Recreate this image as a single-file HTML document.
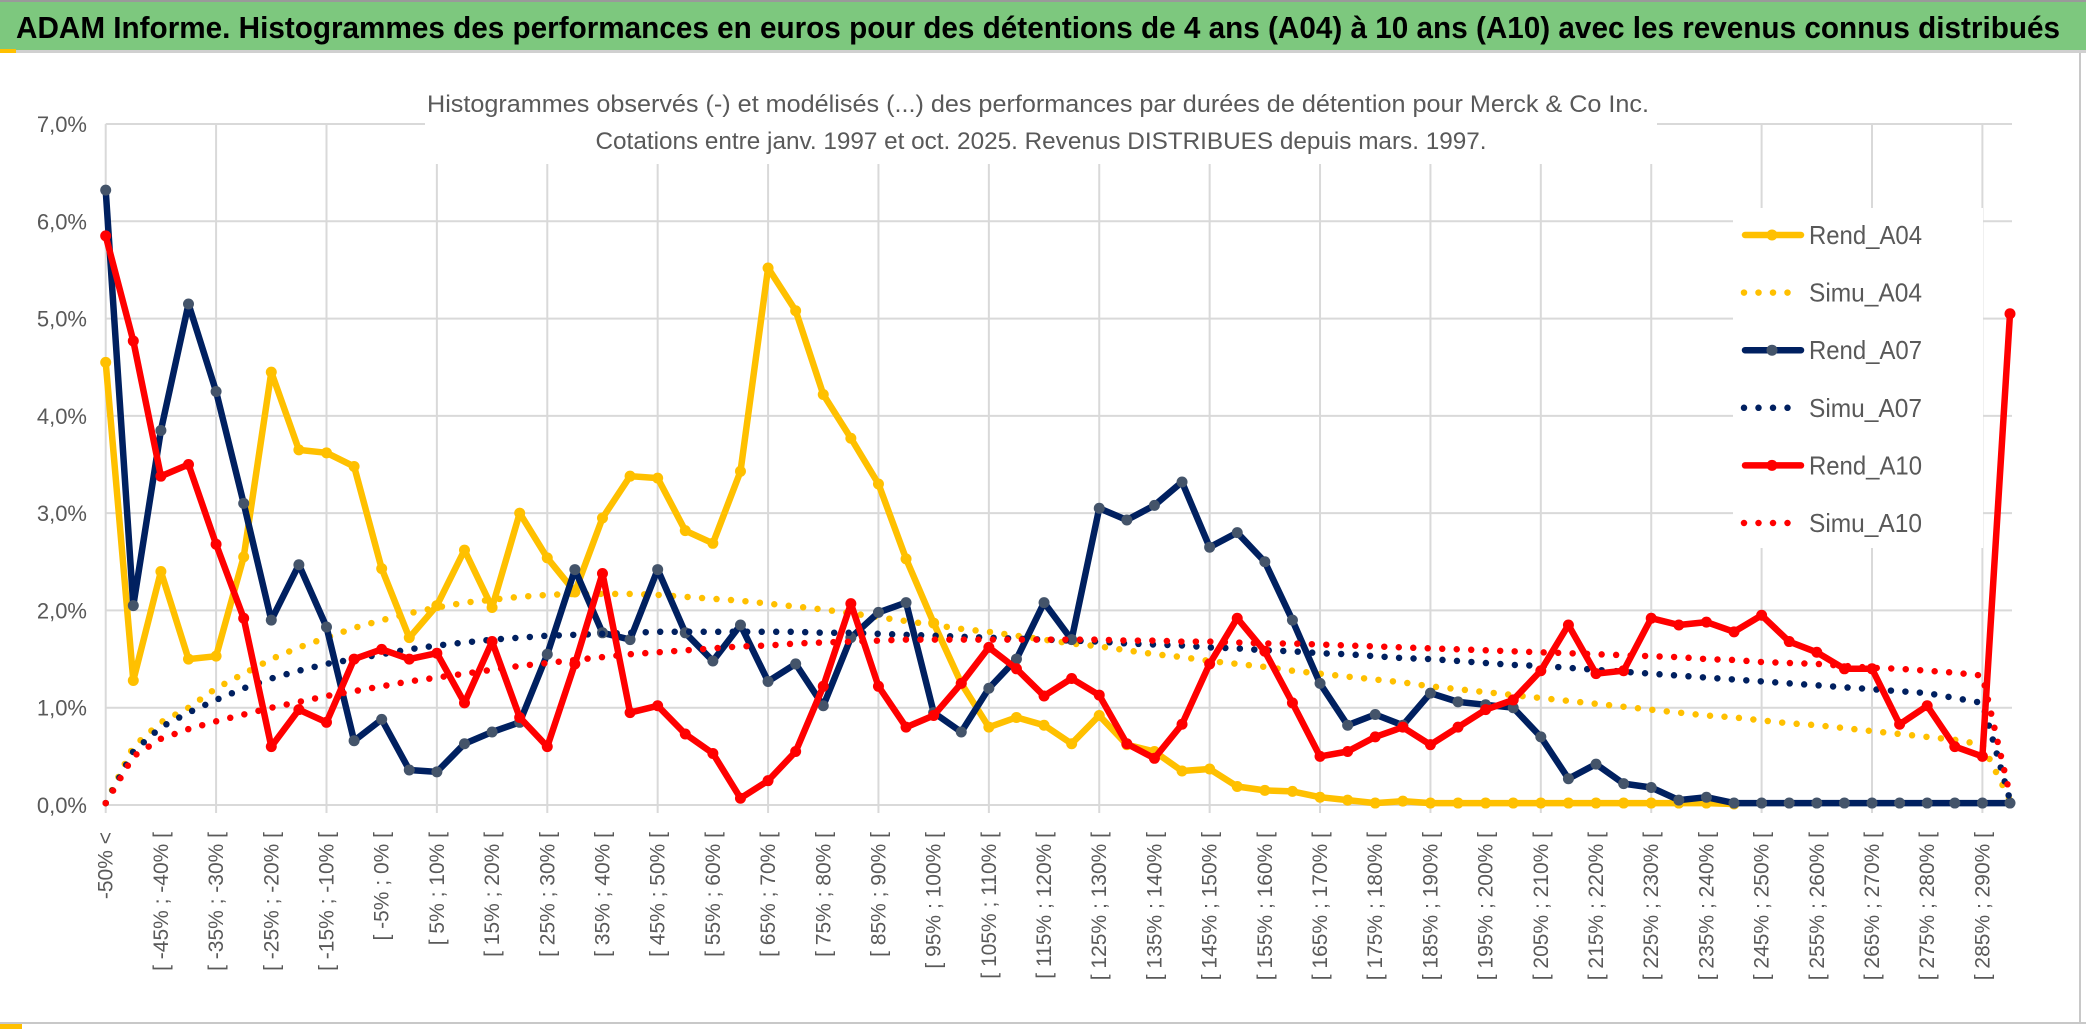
<!DOCTYPE html>
<html><head><meta charset="utf-8">
<style>
html,body{margin:0;padding:0;background:#fff;}
svg{display:block;font-family:"Liberation Sans",sans-serif;}
</style></head>
<body>
<svg id="chart" width="2086" height="1033" viewBox="0 0 2086 1033" xmlns="http://www.w3.org/2000/svg">
  <rect x="0" y="0" width="2086" height="1033" fill="#fff"/>
  <rect x="0" y="2" width="2086" height="48" fill="#7dc87e"/>
  <rect x="0" y="0" width="2086" height="2" fill="#9a9a9a"/>
  <rect x="0" y="50" width="2086" height="3" fill="#d0d0d0"/>
  <rect x="0" y="49" width="16" height="4" fill="#ffc000"/>
  <text x="16" y="38" font-size="31" font-weight="bold" fill="#000" textLength="2044" lengthAdjust="spacingAndGlyphs">ADAM Informe. Histogrammes des performances en euros pour des détentions de 4 ans (A04) à 10 ans (A10) avec les revenus connus distribués</text>
  <rect x="2079" y="53" width="2" height="970" fill="#c8c8c8"/>
  <rect x="0" y="1022" width="2086" height="2" fill="#c8c8c8"/>
  <rect x="0" y="1024" width="22" height="5" fill="#ffc000"/>
  <g id="grid"></g>
  <g id="yaxis"></g>
  <g id="xaxis"></g>
  <rect x="425" y="78" width="1232" height="86" fill="#fff"/>
  <text x="1038" y="112" font-size="24" fill="#595959" text-anchor="middle" textLength="1222" lengthAdjust="spacingAndGlyphs">Histogrammes observés (-) et modélisés (...) des performances par durées de détention pour Merck &amp; Co Inc.</text>
  <text x="1041" y="149" font-size="24" fill="#595959" text-anchor="middle" textLength="891" lengthAdjust="spacingAndGlyphs">Cotations entre janv. 1997 et oct. 2025. Revenus DISTRIBUES depuis mars. 1997.</text>
  <g id="series"></g>
  <g id="legend"></g>
</svg>
<script>
const categories = [];
for (let k = 0; k < 70; k++) {
  categories.push(k === 0 ? "-50% <" : "[ " + (-55 + 5 * k) + "% ; " + (-50 + 5 * k) + "% [");
}
const yTicks = [0,1,2,3,4,5,6,7];
const yTickLabels = ["0,0%","1,0%","2,0%","3,0%","4,0%","5,0%","6,0%","7,0%"];
const seriesNames = ["Rend_A04","Simu_A04","Rend_A07","Simu_A07","Rend_A10","Simu_A10"];
const rendA04 = [4.55,1.28,2.40,1.50,1.53,2.55,4.45,3.65,3.62,3.48, 2.43,1.72,2.05,2.62,2.03,3.00,2.54,2.19,2.95,3.38, 3.36,2.82,2.69,3.43,5.52,5.08,4.22,3.77,3.30,2.53, 1.87,1.25,0.80,0.90,0.82,0.63,0.92,0.62,0.55,0.35, 0.37,0.19,0.15,0.14,0.08,0.05,0.02,0.04,0.02,0.02, 0.02,0.02,0.02,0.02,0.02,0.02,0.02,0.02,0.02,0.01, null,null,null,null,null,null,null,null,null,null];
const simuA04 = [0.02,0.60,0.85,1.00,1.20,1.35,1.50,1.62,1.72,1.82, 1.90,1.97,2.03,2.08,2.11,2.14,2.16,2.17,2.17,2.17, 2.16,2.14,2.12,2.10,2.07,2.04,2.01,1.97,1.93,1.89, 1.85,1.81,1.78,1.74,1.70,1.66,1.63,1.59,1.55,1.52, 1.48,1.45,1.42,1.38,1.35,1.32,1.29,1.26,1.22,1.19, 1.16,1.13,1.10,1.07,1.04,1.01,0.98,0.95,0.92,0.90, 0.87,0.84,0.82,0.79,0.76,0.73,0.70,0.67,0.62,0.05];
const rendA07 = [6.32,2.05,3.85,5.15,4.25,3.10,1.90,2.47,1.83,0.66, 0.88,0.36,0.34,0.63,0.75,0.85,1.55,2.42,1.77,1.70, 2.42,1.77,1.48,1.85,1.27,1.45,1.02,1.72,1.98,2.08, 0.95,0.75,1.20,1.50,2.08,1.70,3.05,2.93,3.08,3.32, 2.65,2.80,2.50,1.90,1.25,0.82,0.93,0.82,1.15,1.06, 1.03,1.00,0.70,0.27,0.42,0.22,0.18,0.05,0.08,0.02, 0.02,0.02,0.02,0.02,0.02,0.02,0.02,0.02,0.02,0.02];
const simuA07 = [0.02,0.55,0.80,0.95,1.08,1.20,1.30,1.38,1.45,1.50, 1.55,1.60,1.64,1.67,1.70,1.72,1.74,1.75,1.76,1.77, 1.78,1.78,1.78,1.78,1.78,1.78,1.77,1.77,1.76,1.75, 1.74,1.73,1.72,1.71,1.70,1.69,1.68,1.66,1.65,1.64, 1.62,1.61,1.59,1.58,1.56,1.55,1.53,1.51,1.50,1.48, 1.46,1.44,1.43,1.41,1.39,1.37,1.35,1.33,1.31,1.29, 1.27,1.25,1.23,1.21,1.19,1.17,1.15,1.10,1.05,0.05];
const rendA10 = [5.85,4.77,3.38,3.50,2.68,1.92,0.60,0.98,0.85,1.50, 1.60,1.50,1.56,1.05,1.68,0.90,0.60,1.45,2.38,0.95, 1.02,0.73,0.53,0.07,0.25,0.55,1.22,2.07,1.22,0.80, 0.92,1.25,1.62,1.40,1.12,1.30,1.13,0.63,0.48,0.83, 1.45,1.92,1.58,1.05,0.50,0.55,0.70,0.80,0.62,0.80, 0.98,1.08,1.38,1.85,1.35,1.38,1.92,1.85,1.88,1.78, 1.95,1.68,1.57,1.40,1.40,0.83,1.02,0.60,0.50,5.05];
const simuA10 = [0.02,0.50,0.68,0.78,0.86,0.93,1.00,1.06,1.12,1.17, 1.22,1.27,1.31,1.35,1.39,1.43,1.46,1.49,1.52,1.55, 1.57,1.59,1.61,1.63,1.64,1.66,1.67,1.68,1.69,1.70, 1.70,1.70,1.70,1.70,1.70,1.70,1.70,1.69,1.69,1.68, 1.68,1.67,1.66,1.66,1.65,1.64,1.63,1.62,1.61,1.60, 1.59,1.58,1.57,1.56,1.55,1.54,1.53,1.52,1.50,1.49, 1.47,1.46,1.45,1.43,1.41,1.40,1.38,1.36,1.33,0.10];

const NS = "http://www.w3.org/2000/svg";
const X0 = 105.7, X1 = 2010, Y0 = 805, Y7 = 124;
function xPos(i){ return X0 + (X1 - X0) * i / (categories.length - 1); }
function yPos(v){ return Y0 - (Y0 - Y7) * v / 7; }
function mk(tag, attrs, parent){ const e = document.createElementNS(NS, tag); for (const k in attrs) e.setAttribute(k, attrs[k]); parent.appendChild(e); return e; }

const grid = document.getElementById("grid");
yTicks.forEach((t) => {
  const l = mk("line", {x1: X0, x2: X1 + 2, y1: yPos(t), y2: yPos(t), stroke: "#d9d9d9", "stroke-width": 2}, grid);
  
  
});
for (let i = 0; i < categories.length; i += 4) {
  const l = mk("line", {x1: xPos(i), x2: xPos(i), y1: Y7, y2: Y0 + 8, stroke: "#d9d9d9", "stroke-width": 2}, grid);
  
  
}
const yax = document.getElementById("yaxis");
yTicks.forEach((t, j) => {
  const tx = mk("text", {x: 87, y: yPos(t) + 8, "font-size": 22, fill: "#595959", "text-anchor": "end"}, yax);
  tx.textContent = yTickLabels[j];
  
  
});
const xax = document.getElementById("xaxis");
for (let i = 0; i < categories.length; i += 2) {
  const x = xPos(i);
  const tx = mk("text", {x: 0, y: 0, "font-size": 21, fill: "#595959", "text-anchor": "end", transform: "translate(" + (x + 7) + ",832) rotate(-90)"}, xax);
  tx.textContent = categories[i];
  
  
}

const ser = document.getElementById("series");
function pathFor(arr){
  let d = "", pen = false;
  arr.forEach((v, i) => {
    if (v === null) { pen = false; return; }
    d += (pen ? "L" : "M") + xPos(i).toFixed(1) + "," + yPos(v).toFixed(1);
    pen = true;
  });
  return d;
}
function drawSolid(arr, color, mcolor, name){
  const g = mk("g", {}, ser);
  
  
  mk("path", {d: pathFor(arr), fill: "none", stroke: color, "stroke-width": 6.5, "stroke-linejoin": "round"}, g);
  arr.forEach((v, i) => {
    if (v === null) return;
    const c = mk("circle", {cx: xPos(i), cy: yPos(v), r: 5.5, fill: mcolor}, g);
    
    
  });
}
function drawDotted(arr, color, name){
  const p = mk("path", {d: pathFor(arr), fill: "none", stroke: color, "stroke-width": 6.5, "stroke-linecap": "round", "stroke-dasharray": "0 14.5"}, ser);
  
  
}
drawSolid(rendA04, "#ffc000", "#ffc000", "rend-a04-line");
drawDotted(simuA04, "#ffc000", "simu-a04-line");
drawSolid(rendA07, "#002060", "#44546a", "rend-a07-line");
drawDotted(simuA07, "#002060", "simu-a07-line");
drawSolid(rendA10, "#ff0000", "#ff0000", "rend-a10-line");
drawDotted(simuA10, "#ff0000", "simu-a10-line");

const leg = document.getElementById("legend");
const lbg = mk("rect", {x: 1733, y: 208, width: 250, height: 340, fill: "#fff"}, leg);


const legColors = ["#ffc000","#ffc000","#002060","#002060","#ff0000","#ff0000"];
const legMarker = ["#ffc000",null,"#44546a",null,"#ff0000",null];
seriesNames.forEach((n, j) => {
  const y = 235 + j * 57.6;
  const g = mk("g", {}, leg);
  
  
  if (j % 2 === 0) {
    mk("line", {x1: 1745, x2: 1801, y1: y, y2: y, stroke: legColors[j], "stroke-width": 6.5, "stroke-linecap": "round"}, g);
    mk("circle", {cx: 1772, cy: y, r: 5.5, fill: legMarker[j]}, g);
  } else {
    mk("line", {x1: 1744, x2: 1800, y1: y, y2: y, stroke: legColors[j], "stroke-width": 6.5, "stroke-linecap": "round", "stroke-dasharray": "0 14.5"}, g);
  }
  const t = mk("text", {x: 1809, y: y + 9, "font-size": 26, fill: "#595959", textLength: 113, lengthAdjust: "spacingAndGlyphs"}, g);
  t.textContent = n;
});
</script>
</body></html>
